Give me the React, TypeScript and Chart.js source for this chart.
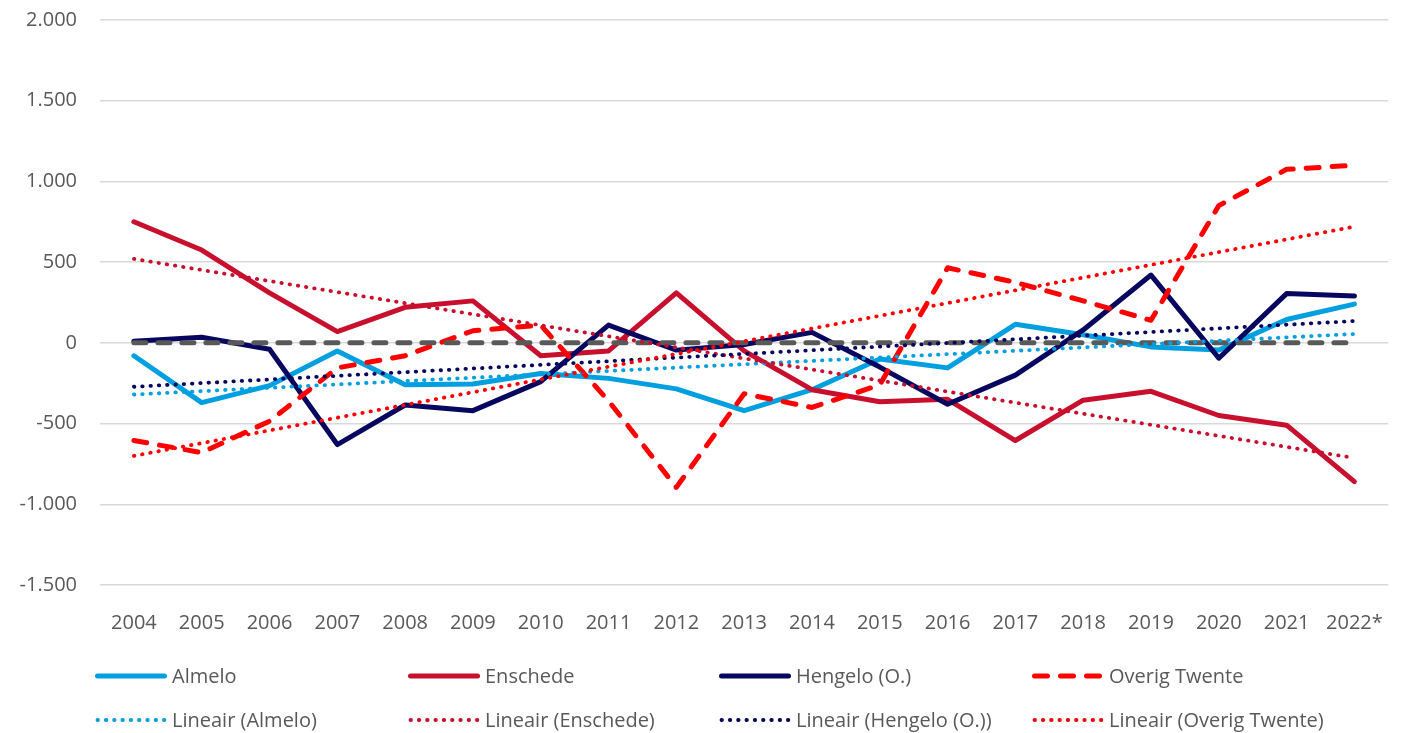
import React, { useEffect, useRef } from 'react';
import { Chart, registerables } from 'chart.js';

Chart.register(...registerables);

const years = ['2004', '2005', '2006', '2007', '2008', '2009', '2010', '2011', '2012', '2013', '2014', '2015', '2016', '2017', '2018', '2019', '2020', '2021', '2022*'];

const almelo = [-80, -370, -265, -50, -260, -255, -190, -220, -285, -420, -290, -100, -155, 115, 50, -25, -45, 145, 240];
const enschede = [750, 575, 310, 70, 220, 260, -80, -50, 310, -50, -290, -365, -350, -605, -355, -300, -450, -510, -860];
const hengelo = [10, 35, -40, -630, -385, -420, -240, 110, -45, -10, 65, -150, -380, -200, 80, 420, -95, 305, 290];
const overigTwente = [-605, -680, -485, -155, -80, 75, 110, -360, -895, -315, -400, -260, 465, 375, 260, 140, 850, 1075, 1100];
const zeroLine = [0, 0, 0, 0, 0, 0, 0, 0, 0, 0, 0, 0, 0, 0, 0, 0, 0, 0, 0];

// Linear trendlines: values read at the first (2004) and last (2022*) category
const trendAlmelo = [-320, null, null, null, null, null, null, null, null, null, null, null, null, null, null, null, null, null, 55];
const trendEnschede = [520, null, null, null, null, null, null, null, null, null, null, null, null, null, null, null, null, null, -713];
const trendHengelo = [-272, null, null, null, null, null, null, null, null, null, null, null, null, null, null, null, null, null, 135];
const trendOverig = [-700, null, null, null, null, null, null, null, null, null, null, null, null, null, null, null, null, null, 720];

const yTicksMin = -1500;
const yTicksMax = 2000;
const yTickStep = 500;

const FONT = "'Open Sans', 'Liberation Sans', sans-serif";
const TEXT_COLOR = '#595959';

const C_ALMELO = '#009FDF';
const C_ENSCHEDE = '#C8102E';
const C_HENGELO = '#07075F';
const C_OVERIG = '#FF0000';
const C_ZERO = '#595959';

function fmt(v: number): string {
  const s = Math.abs(v).toString().replace(/\B(?=(\d{3})+(?!\d))/g, '.');
  return (v < 0 ? '-' : '') + s;
}

// legend grid layout (dataset indices in reading order)
const LEGEND_ORDER = [0, 1, 2, 3, 5, 6, 7, 8];
const LEG_COLS = [95, 408, 719, 1032];
const LEG_ROWS = [676, 720];

const gridLegend = {
  id: 'gridLegend',
  afterDraw(chart: any) {
    const ctx = chart.ctx as CanvasRenderingContext2D;
    ctx.save();
    ctx.font = `20px ${FONT}`;
    ctx.textBaseline = 'middle';
    ctx.textAlign = 'left';
    LEGEND_ORDER.forEach((dsIndex, i) => {
      const ds = chart.data.datasets[dsIndex];
      const x0 = LEG_COLS[i % 4];
      const y = LEG_ROWS[Math.floor(i / 4)];
      ctx.beginPath();
      ctx.strokeStyle = ds.borderColor;
      ctx.lineWidth = ds.borderWidth;
      ctx.lineCap = ds.borderCapStyle || 'butt';
      ctx.setLineDash(ds.borderDash || []);
      ctx.moveTo(x0 + 2.5, y);
      ctx.lineTo(x0 + 69.5, y);
      ctx.stroke();
      ctx.setLineDash([]);
      ctx.fillStyle = TEXT_COLOR;
      ctx.fillText(ds.label, x0 + 77, y + 1);
    });
    ctx.restore();
  },
};

export default function App() {
  const ref = useRef<HTMLCanvasElement>(null);

  useEffect(() => {
    document.body.style.margin = '0';
    const solid = (label: string, data: number[], color: string, order: number) => ({
      label,
      data,
      borderColor: color,
      backgroundColor: color,
      borderWidth: 5,
      borderCapStyle: 'round',
      borderJoinStyle: 'round',
      pointRadius: 0,
      tension: 0,
      order,
    });
    const trend = (label: string, data: (number | null)[], color: string, order: number) => ({
      label,
      data,
      borderColor: color,
      backgroundColor: color,
      borderWidth: 3.8,
      borderDash: [0.5, 7.8],
      borderCapStyle: 'round',
      pointRadius: 0,
      spanGaps: true,
      order,
    });

    const chart = new Chart(ref.current!, {
      type: 'line',
      data: {
        labels: years,
        datasets: [
          solid('Almelo', almelo, C_ALMELO, 90),
          solid('Enschede', enschede, C_ENSCHEDE, 80),
          solid('Hengelo (O.)', hengelo, C_HENGELO, 70),
          { ...solid('Overig Twente', overigTwente, C_OVERIG, 60), borderDash: [13, 13] },
          { ...solid('Nul', zeroLine, C_ZERO, 50), borderDash: [12, 12] },
          trend('Lineair (Almelo)', trendAlmelo, C_ALMELO, 40),
          trend('Lineair (Enschede)', trendEnschede, C_ENSCHEDE, 30),
          trend('Lineair (Hengelo (O.))', trendHengelo, C_HENGELO, 20),
          trend('Lineair (Overig Twente)', trendOverig, C_OVERIG, 10),
        ] as any,
      },
      options: {
        animation: false,
        responsive: true,
        maintainAspectRatio: false,
        layout: { padding: { top: 20, right: 8, left: 0, bottom: 0 } },
        plugins: {
          legend: { display: false },
          tooltip: { enabled: false },
        },
        scales: {
          x: {
            offset: true,
            grid: { display: false },
            border: { display: false },
            ticks: {
              color: TEXT_COLOR,
              font: { family: FONT, size: 20 },
              padding: 18,
              maxRotation: 0,
              autoSkip: false,
            },
            afterFit: (s: any) => {
              s.height = 148;
            },
          },
          y: {
            min: yTicksMin,
            max: yTicksMax,
            grid: {
              color: '#D9D9D9',
              lineWidth: 1.5,
              drawTicks: true,
              tickLength: 23,
              tickColor: 'rgba(0,0,0,0)',
            },
            border: { display: false },
            ticks: {
              stepSize: yTickStep,
              color: TEXT_COLOR,
              font: { family: FONT, size: 20 },
              padding: 0,
              callback: (v: any) => fmt(Number(v)),
            },
            afterFit: (s: any) => {
              s.width = 100;
            },
          },
        },
      } as any,
      plugins: [gridLegend],
    });
    return () => chart.destroy();
  }, []);

  return (
    <div style={{ width: 1401, height: 733, position: 'relative' }}>
      <canvas ref={ref} />
    </div>
  );
}
